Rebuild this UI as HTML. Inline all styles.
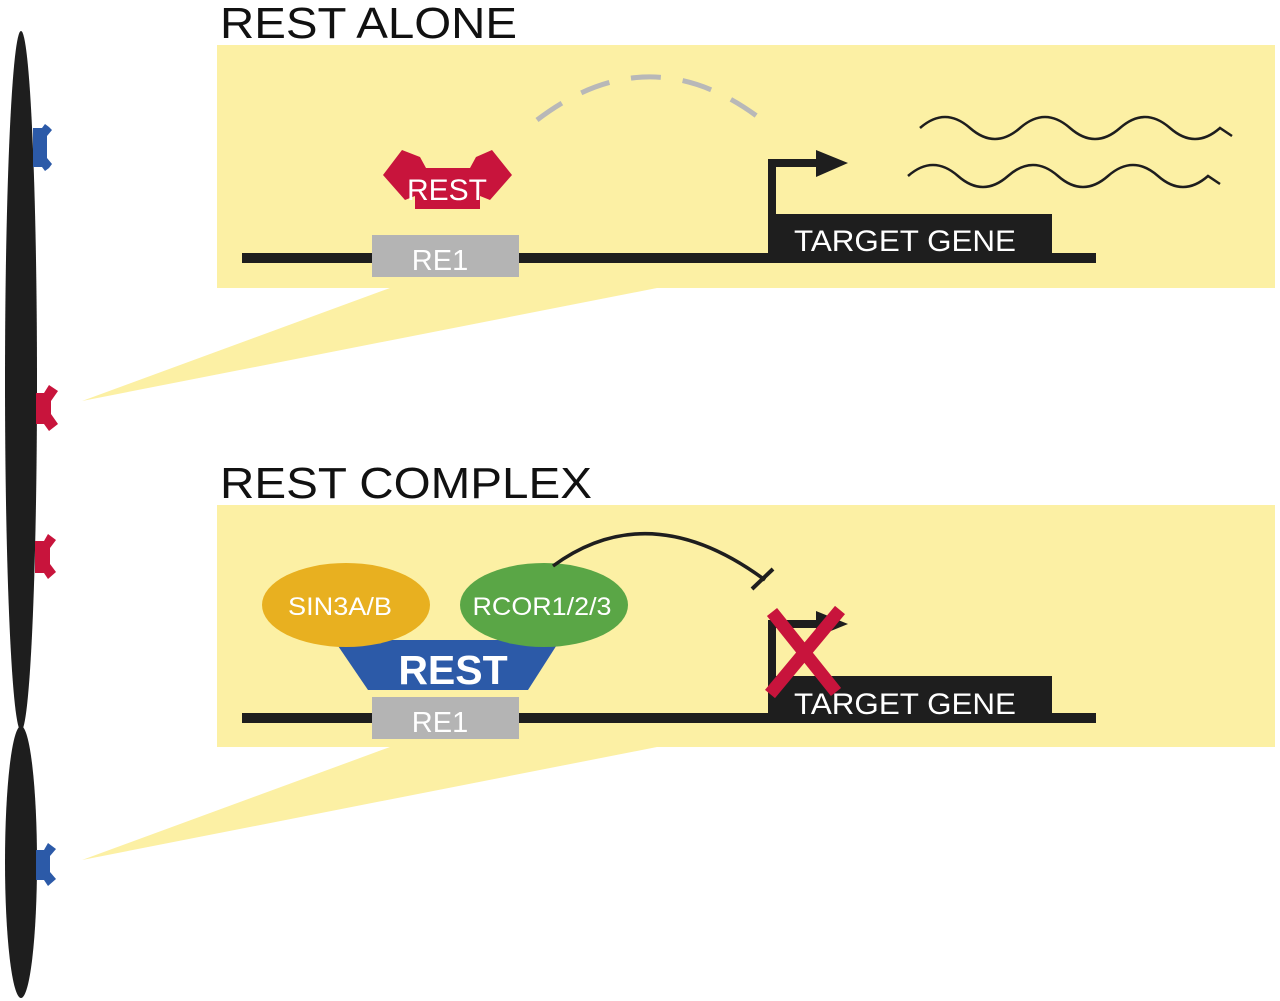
<!DOCTYPE html>
<html><head><meta charset="utf-8"><style>
html,body{margin:0;padding:0;background:#fff;}
svg{display:block;}
text{font-family:"Liberation Sans",Arial,sans-serif;}
</style></head><body>
<svg width="1280" height="1001" viewBox="0 0 1280 1001" xmlns="http://www.w3.org/2000/svg">
<rect x="217" y="45" width="1058" height="243" fill="#fcf0a4"/>
<rect x="217" y="505" width="1058" height="242" fill="#fcf0a4"/>
<polygon points="82,401 390,288 657,288" fill="#fcf0a4"/>
<polygon points="82,860 390,747 657,747" fill="#fcf0a4"/>
<text x="220" y="38" font-size="44" fill="#111" textLength="297" lengthAdjust="spacingAndGlyphs">REST ALONE</text>
<text x="220" y="498" font-size="44" fill="#111" textLength="372" lengthAdjust="spacingAndGlyphs">REST COMPLEX</text>
<ellipse cx="21" cy="381" rx="16" ry="350" fill="#1e1e1e"/>
<ellipse cx="21" cy="862" rx="16" ry="136" fill="#1e1e1e"/>
<g fill="#2c5aa8"><polygon points="33,128 42,128 45,124 49,127 52,130 47,136 47,158 52,164 49,168 45,171 42,167 33,167"/></g>
<g fill="#c8143c"><polygon points="36,393 44,393 49,385 58,391 51,401 51,414 58,424 49,431 44,424 36,424"/>
<polygon points="35,541 44,541 48,534 56,540 50,548 50,564 56,572 48,579 44,573 35,573"/></g>
<g fill="#2c5aa8"><polygon points="36,850 44,850 48,843 56,849 50,856 50,872 56,879 48,886 44,880 36,880"/></g>
<rect x="242" y="253" width="854" height="10" fill="#1e1e1e"/>
<rect x="768" y="214" width="284" height="44" fill="#1e1e1e"/>
<rect x="372" y="235" width="147" height="42" fill="#b4b4b4"/>
<text x="440" y="270" font-size="29" fill="#fff" text-anchor="middle">RE1</text>
<text x="794" y="251" font-size="30" fill="#fff" textLength="222" lengthAdjust="spacingAndGlyphs">TARGET GENE</text>
<path d="M772,256 V163 H822" stroke="#1e1e1e" stroke-width="8" fill="none"/>
<polygon points="816,150 848,163 816,177" fill="#1e1e1e"/>
<polygon points="383,175 402,150 420,157 426,168 470,168 476,157 492,150 512,175 490,200 480,196 480,209 415,209 415,196 405,200" fill="#c8143c"/>
<text x="447" y="200" font-size="30" fill="#fff" text-anchor="middle">REST</text>
<path d="M537,120 Q655,30 772,128" stroke="#b8b8b8" stroke-width="5" fill="none" stroke-dasharray="30,22"/>
<path d="M920,128 q25,-22 50,0 t50,0 t50,0 t50,0 t50,0 t50,0 l12,8" stroke="#1e1e1e" stroke-width="2.5" fill="none"/>
<path d="M908,176 q25,-22 50,0 t50,0 t50,0 t50,0 t50,0 t50,0 l12,8" stroke="#1e1e1e" stroke-width="2.5" fill="none"/>
<rect x="242" y="713" width="854" height="10" fill="#1e1e1e"/>
<rect x="768" y="676" width="284" height="44" fill="#1e1e1e"/>
<rect x="372" y="697" width="147" height="42" fill="#b4b4b4"/>
<text x="440" y="732" font-size="29" fill="#fff" text-anchor="middle">RE1</text>
<text x="794" y="714" font-size="30" fill="#fff" textLength="222" lengthAdjust="spacingAndGlyphs">TARGET GENE</text>
<path d="M772,716 V624 H822" stroke="#1e1e1e" stroke-width="8" fill="none"/>
<polygon points="816,611 848,624 816,637" fill="#1e1e1e"/>
<polygon points="334,640 560,640 528,690 368,690" fill="#2c5aa8"/>
<ellipse cx="346" cy="605" rx="84" ry="42" fill="#e8b020"/>
<ellipse cx="544" cy="605" rx="84" ry="42" fill="#5aa646"/>
<text x="340" y="615" font-size="25" fill="#fff" text-anchor="middle" textLength="104" lengthAdjust="spacingAndGlyphs">SIN3A/B</text>
<text x="542" y="615" font-size="25" fill="#fff" text-anchor="middle" textLength="139" lengthAdjust="spacingAndGlyphs">RCOR1/2/3</text>
<text x="453" y="684" font-size="41" font-weight="bold" fill="#fff" text-anchor="middle">REST</text>
<path d="M553,566 Q650,495 765,580" stroke="#1e1e1e" stroke-width="3.5" fill="none"/>
<line x1="752" y1="589" x2="773" y2="569" stroke="#1e1e1e" stroke-width="4"/>
<g stroke="#c8143c" stroke-width="13">
<line x1="772" y1="612" x2="836" y2="692"/>
<line x1="840" y1="610" x2="770" y2="694"/>
</g>
</svg>
</body></html>
